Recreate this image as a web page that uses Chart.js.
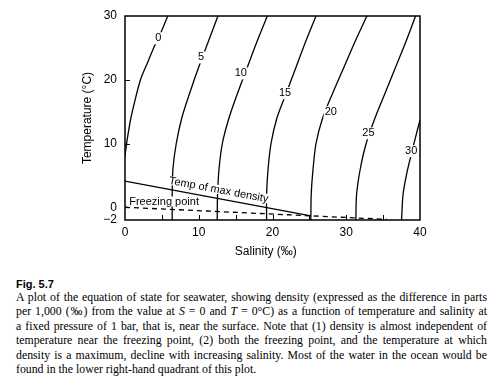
<!DOCTYPE html>
<html>
<head>
<meta charset="utf-8">
<script src="https://cdn.jsdelivr.net/npm/chart.js@4.4.1/dist/chart.umd.min.js"></script>
<style>
    body { margin: 0; background: #fff; width: 500px; height: 389px; overflow: hidden; position: relative; }
    #plot { position: absolute; left: 0; top: 0; }
    .caption { position: absolute; left: 16px; top: 278px; width: 471px; color: #000; }
    .fig { font: bold 11px "Liberation Sans", Arial, sans-serif; line-height: 12px; height: 12px; }
    .line { font: 11.8px "Liberation Serif", "Times New Roman", serif; line-height: 14.4px; height: 14.4px; white-space: nowrap; text-align: justify; text-align-last: justify; }
    .line.last { text-align-last: left; }
</style>
</head>
<body>
<canvas id="plot" width="500" height="262"></canvas>
<div class="caption">
    <div class="fig">Fig. 5.7</div>
    <div class="line">A plot of the equation of state for seawater, showing density (expressed as the difference in parts</div>
    <div class="line">per 1,000 (‰) from the value at <i>S</i> = 0 and <i>T</i> = 0°C) as a function of temperature and salinity at</div>
    <div class="line">a fixed pressure of 1 bar, that is, near the surface. Note that (1) density is almost independent of</div>
    <div class="line">temperature near the freezing point, (2) both the freezing point, and the temperature at which</div>
    <div class="line">density is a maximum, decline with increasing salinity. Most of the water in the ocean would be</div>
    <div class="line last">found in the lower right-hand quadrant of this plot.</div>
</div>
<script>
// axis ticks
const salinityTicks = [0, 10, 20, 30, 40];
const salinityMinorTicks = [5, 10, 15, 20, 25, 30, 35];
const tempTicks = [-2, 0, 10, 20, 30];
const tempInnerTicks = [10, 20];

// density contours, [salinity, temperature]
const contourLevels = [0, 5, 10, 15, 20, 25, 30];
const sigma0 = [[5.8, 30], [4.9, 27.5], [4.0, 25.3], [3.1, 22.8], [2.1, 20], [1.3, 16.5], [0.8, 14], [0.35, 11], [0.1, 9], [0, 8]];
const sigma5 = [[12.6, 30], [11.3, 26], [10.0, 22], [8.8, 18], [7.7, 14], [6.95, 10], [6.5, 6], [6.4, 2], [6.4, -2]];
const sigma10 = [[19.3, 30], [17.9, 26], [16.6, 22], [15.3, 18], [14.1, 14], [13.2, 10], [12.75, 6], [12.55, 2], [12.5, -2]];
const sigma15 = [[25.9, 30], [24.5, 26], [23.2, 22], [21.9, 18], [20.6, 14], [19.8, 10], [19.4, 6], [19.2, 2], [19.2, -2]];
const sigma20 = [[32.8, 30], [31.2, 26], [29.7, 22], [28.2, 18], [26.8, 14], [25.9, 10], [25.5, 6], [25.25, 2], [25.2, -2]];
const sigma25 = [[39.4, 30], [38.1, 26], [36.7, 22], [35.3, 18], [33.9, 14], [32.7, 10], [31.9, 6], [31.4, 2], [31.3, -2]];
const sigma30 = [[40, 13.7], [39.4, 11], [38.75, 8], [38.15, 5], [37.7, 2], [37.5, -2]];
const contours = [sigma0, sigma5, sigma10, sigma15, sigma20, sigma25, sigma30];

// contour label positions
const labelS = [4.5, 10.3, 15.7, 21.7, 27.9, 33.0, 38.8];
const labelT = [26.5, 23.5, 21.0, 17.9, 14.9, 11.6, 8.8];

// temperature of maximum density and freezing point
const maxDensityS = [0, 25.2];
const maxDensityT = [4.1, -1.35];
const freezingS = [0, 35.5];
const freezingT = [0, -1.9];

const sansFont = '"Liberation Sans", Arial, sans-serif';

function toPoints(pairs) {
    return pairs.map(p => ({ x: p[0], y: p[1] }));
}

const overlay = {
    id: 'overlay',
    afterDatasetsDraw(chart) {
        const { ctx, scales: { x, y } } = chart;
        ctx.save();
        ctx.textAlign = 'center';
        ctx.textBaseline = 'middle';
        ctx.font = '11px ' + sansFont;

        // contour values, white box hides the line underneath
        contourLevels.forEach((level, i) => {
            const px = x.getPixelForValue(labelS[i]);
            const py = y.getPixelForValue(labelT[i]);
            const w = ctx.measureText(String(level)).width;
            ctx.fillStyle = '#fff';
            ctx.fillRect(px - w / 2 - 1, py - 6, w + 2, 12);
            ctx.fillStyle = '#000';
            ctx.fillText(String(level), px, py);
        });

        // "Temp of max density" along its line
        const x0 = x.getPixelForValue(maxDensityS[0]), y0 = y.getPixelForValue(maxDensityT[0]);
        const x1 = x.getPixelForValue(maxDensityS[1]), y1 = y.getPixelForValue(maxDensityT[1]);
        const angle = Math.atan2(y1 - y0, x1 - x0);
        const tx = x.getPixelForValue(12.7), ty = y.getPixelForValue(2.7);
        const tmd = 'Temp of max density';
        const tw = ctx.measureText(tmd).width;
        ctx.save();
        ctx.translate(tx, ty);
        ctx.rotate(angle);
        ctx.fillStyle = '#fff';
        ctx.fillRect(-tw / 2 - 1, -5, tw + 2, 9);
        ctx.fillStyle = '#000';
        ctx.fillText(tmd, 0, 0);
        ctx.restore();

        // "Freezing point"
        const fx = x.getPixelForValue(5.3), fy = y.getPixelForValue(0.9);
        const fz = 'Freezing point';
        const fw = ctx.measureText(fz).width;
        ctx.fillStyle = '#fff';
        ctx.fillRect(fx - fw / 2 - 1, fy - 5, fw + 2, 10);
        ctx.fillStyle = '#000';
        ctx.fillText(fz, fx, fy);
        ctx.restore();
    },
    afterDraw(chart) {
        const { ctx, chartArea: a, scales: { x, y } } = chart;
        ctx.save();
        ctx.strokeStyle = '#000';
        ctx.lineWidth = 1;
        ctx.beginPath();
        salinityMinorTicks.forEach(v => {
            const px = Math.round(x.getPixelForValue(v)) + 0.5;
            ctx.moveTo(px, a.bottom);
            ctx.lineTo(px, a.bottom - 5);
        });
        tempInnerTicks.forEach(v => {
            const py = Math.round(y.getPixelForValue(v)) + 0.5;
            ctx.moveTo(a.left, py);
            ctx.lineTo(a.left + 5, py);
        });
        ctx.stroke();
        ctx.lineWidth = 1.5;
        ctx.strokeRect(a.left, a.top, a.right - a.left, a.bottom - a.top);
        ctx.restore();
    }
};

const datasets = contours.map((c, i) => ({
    label: 'sigma ' + contourLevels[i],
    data: toPoints(c),
    showLine: true,
    borderColor: '#000',
    borderWidth: 1.3,
    pointRadius: 0,
    tension: 0.3
}));

datasets.push({
    label: 'Temp of max density',
    data: maxDensityS.map((s, i) => ({ x: s, y: maxDensityT[i] })),
    showLine: true,
    borderColor: '#000',
    borderWidth: 1.3,
    pointRadius: 0
});

datasets.push({
    label: 'Freezing point',
    data: freezingS.map((s, i) => ({ x: s, y: freezingT[i] })),
    showLine: true,
    borderColor: '#000',
    borderWidth: 1.3,
    borderDash: [5, 4],
    pointRadius: 0
});

Chart.defaults.font.family = sansFont;
Chart.defaults.color = '#000';

new Chart(document.getElementById('plot'), {
    type: 'scatter',
    data: { datasets: datasets },
    options: {
        responsive: false,
        animation: false,
        layout: { padding: { left: 0, right: 80, top: 16, bottom: 0 } },
        plugins: {
            legend: { display: false },
            tooltip: { enabled: false }
        },
        scales: {
            x: {
                type: 'linear',
                min: 0,
                max: 40,
                afterBuildTicks: scale => { scale.ticks = salinityTicks.map(v => ({ value: v })); },
                afterFit: scale => { scale.height = 42; },
                grid: { display: false, drawTicks: false, tickLength: 0 },
                border: { display: false },
                ticks: { font: { size: 12 }, padding: 5, maxRotation: 0 },
                title: { display: true, text: 'Salinity (‰)    ', font: { size: 12 }, padding: { top: 0, bottom: 3 } }
            },
            y: {
                type: 'linear',
                min: -2,
                max: 30,
                afterBuildTicks: scale => { scale.ticks = tempTicks.map(v => ({ value: v })); },
                afterFit: scale => { scale.width = 125; },
                grid: { display: false, drawTicks: false, tickLength: 0 },
                border: { display: false },
                ticks: { font: { size: 12 }, padding: 8, callback: v => String(v).replace('-', '\u2212') },
                title: { display: true, text: 'Temperature (°C)', font: { size: 12 }, padding: { top: 80, bottom: 0 } }
            }
        }
    },
    plugins: [overlay]
});
</script>
</body>
</html>
